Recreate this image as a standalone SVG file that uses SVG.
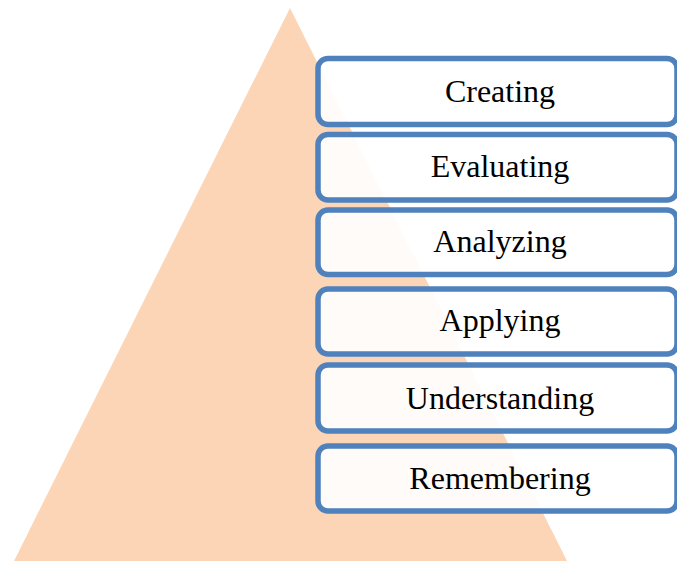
<svg xmlns="http://www.w3.org/2000/svg" width="677" height="561" viewBox="0 0 677 561">
<style>
.box{fill:#ffffff;fill-opacity:0.9;stroke:#4F81BD;stroke-width:5.5}
.lbl{font-family:"Liberation Serif","Times New Roman",serif;font-size:32px;fill:#000;text-anchor:middle}
</style>
<rect x="0" y="0" width="677" height="561" fill="#ffffff"/>
<g id="pyramid"><polygon points="290,8 567,561 14,561" fill="#FBD5B5"/></g>
<g id="creating"><rect class="box" x="318" y="58.5" width="359" height="66" rx="10"/><text class="lbl" x="500" y="102">Creating</text></g>
<g id="evaluating"><rect class="box" x="318" y="134.5" width="359" height="65.5" rx="10"/><text class="lbl" x="500" y="176.5">Evaluating</text></g>
<g id="analyzing"><rect class="box" x="318" y="210" width="359" height="64.5" rx="10"/><text class="lbl" x="500" y="252">Analyzing</text></g>
<g id="applying"><rect class="box" x="318" y="289" width="359" height="65" rx="10"/><text class="lbl" x="500" y="331">Applying</text></g>
<g id="understanding"><rect class="box" x="318" y="365" width="359" height="66" rx="10"/><text class="lbl" x="500" y="409">Understanding</text></g>
<g id="remembering"><rect class="box" x="318" y="446" width="359" height="65" rx="10"/><text class="lbl" x="500" y="488.5">Remembering</text></g>
<g id="connectors"></g>
</svg>
